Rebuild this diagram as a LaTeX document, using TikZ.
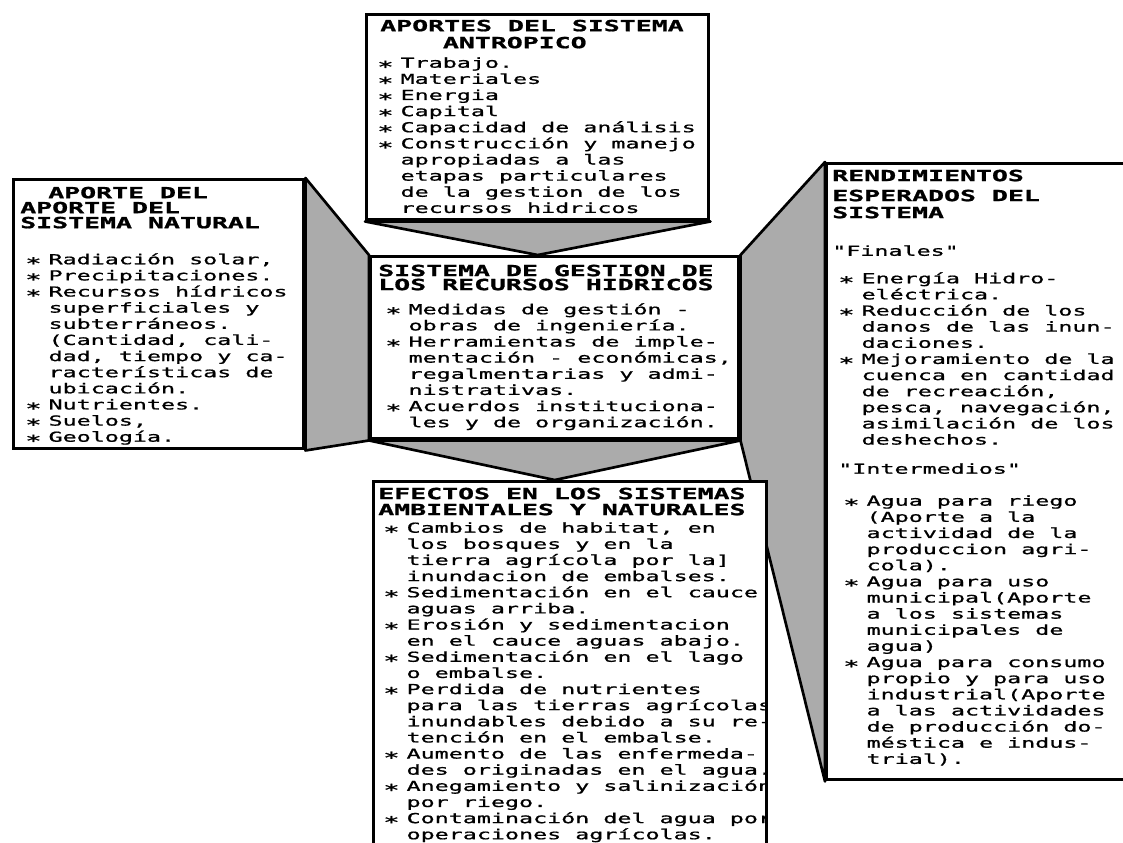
\documentclass[tikz,border=0pt]{standalone}
\usepackage{fontspec}
\newfontfamily\bodyfont{DejaVu Sans Mono}[FakeStretch=1.7, FakeBold=1]
\newfontfamily\headfont{DejaVu Sans Mono}[FakeStretch=1.73, FakeBold=1.2]
\usetikzlibrary{positioning, backgrounds}
\tikzset{
  panel/.style   ={draw, line width=2.6pt, fill=white, inner sep=0pt,
    anchor=north west},
  funnel/.style  ={draw, fill=gray!66, line width=2pt, line join=round},
  headtext/.style={font=\headfont\bfseries\fontsize{11.5pt}{11.25pt}\selectfont,
    align=left, inner sep=0pt, anchor=north west},
  bodytext/.style={font=\bodyfont\fontsize{10.3pt}{12.1pt}\selectfont,
    align=left, inner sep=0pt, anchor=north west},
}
\newcommand{\itm}{\makebox[17.5pt][l]{\smash{\raisebox{-3.6pt}{\fontsize{12pt}{12pt}\selectfont *}}}}
\newcommand{\cnt}{\hspace*{17.5pt}}

\begin{document}
\begin{tikzpicture}[x=0.75pt, y=-0.75pt]
  \useasboundingbox (0,0) rectangle (1123,842);

  % the five panels
  \node[panel, minimum width=256.5pt, minimum height=153.75pt] (antro) at (365,13)  {};
  \node[panel, minimum width=217.5pt, minimum height=201.75pt] (nat)   at (12,178)  {};
  \node[panel, minimum width=276pt,   minimum height=136.5pt]  (mid)   at (369,255) {};
  \node[panel, minimum width=232.5pt, minimum height=462pt]    (rend)  at (825,162) {};
  \node[panel, minimum width=294.75pt,minimum height=285pt]    (bot)   at (372,480) {};

  % antropico
  \node[headtext, below right=4.9pt and 11.25pt of antro.north west] (antroh)
    {APORTES DEL SISTEMA\\[1.5pt]\hspace*{47pt}ANTROPICO};
  \node[bodytext, below right=33pt and 9pt of antro.north west] (antrob)
    {\itm Trabajo.\\
     \itm Materiales\\
     \itm Energia\\
     \itm Capital\\
     \itm Capacidad de análisis\\
     \itm Construcción y manejo\\
     \cnt apropiadas a las\\
     \cnt etapas particulares\\
     \cnt de la gestion de los\\
     \cnt recursos hidricos};

  % natural
  \node[headtext, below right=6.4pt and 6pt of nat.north west] (nath)
    {\hspace*{21pt}APORTE DEL\\APORTE DEL\\SISTEMA NATURAL};
  \node[bodytext, below right=56.25pt and 9.75pt of nat.north west] (natb)
    {\itm Radiación solar,\\
     \itm Precipitaciones.\\
     \itm Recursos hídricos\\
     \cnt superficiales y\\
     \cnt subterráneos.\\
     \cnt (Cantidad, cali-\\
     \cnt dad, tiempo y ca-\\
     \cnt racterísticas de\\
     \cnt ubicación.\\
     \itm Nutrientes.\\
     \itm Suelos,\\
     \itm Geología.};

  % gestion
  \node[headtext, below right=7.1pt and 6.75pt of mid.north west] (midh)
    {SISTEMA DE GESTION DE\\[-0.75pt]LOS RECURSOS HIDRICOS};
  \node[bodytext, below right=36pt and 12pt of mid.north west] (midb)
    {\itm Medidas de gestión -\\
     \cnt obras de ingeniería.\\
     \itm Herramientas de imple-\\
     \cnt mentación - económicas,\\
     \cnt regalmentarias y admi-\\
     \cnt nistrativas.\\
     \itm Acuerdos instituciona-\\
     \cnt les y de organización.};

  % rendimientos
  \node[headtext, below right=5.6pt and 5.25pt of rend.north west] (rendh)
    {RENDIMIENTOS\\[3.75pt]ESPERADOS DEL\\[1.5pt]SISTEMA};
  \node[bodytext, below right=62.25pt and 5.25pt of rend.north west] (fin)
    {"Finales"};
  \node[bodytext, below right=82.5pt and 9.75pt of rend.north west] (finb)
    {\itm Energía Hidro-\\
     \cnt eléctrica.\\
     \itm Reducción de los\\
     \cnt danos de las inun-\\
     \cnt daciones.\\
     \itm Mejoramiento de la\\
     \cnt cuenca en cantidad\\
     \cnt de recreación,\\
     \cnt pesca, navegación,\\
     \cnt asimilación de los\\
     \cnt deshechos.};
  \node[bodytext, below right=225.75pt and 9.75pt of rend.north west] (inter)
    {"Intermedios"};
  \node[bodytext, below right=249.75pt and 13.5pt of rend.north west] (interb)
    {\itm Agua para riego\\
     \cnt (Aporte a la\\
     \cnt actividad de la\\
     \cnt produccion agri-\\
     \cnt cola).\\
     \itm Agua para uso\\
     \cnt municipal(Aporte\\
     \cnt a los sistemas\\
     \cnt municipales de\\
     \cnt agua)\\
     \itm Agua para consumo\\
     \cnt propio y para uso\\
     \cnt industrial(Aporte\\
     \cnt a las actividades\\
     \cnt de producción do-\\
     \cnt méstica e indus-\\
     \cnt trial).};

  % efectos (long lines run under the right border)
  \node[headtext, below right=5.6pt and 4.5pt of bot.north west] (both)
    {EFECTOS EN LOS SISTEMAS\\[0.75pt]AMBIENTALES Y NATURALES};
  \begin{scope}
    \clip (bot.north west) rectangle ([xshift=-1.3pt]bot.south east);
    \node[bodytext, below right=31.5pt and 8.25pt of bot.north west] (botb)
      {\itm Cambios de habitat, en\\
       \cnt los bosques y en la\\
       \cnt tierra agrícola por la]\\
       \cnt inundacion de embalses.\\
       \itm Sedimentación en el cauce\\
       \cnt aguas arriba.\\
       \itm Erosión y sedimentacion\\
       \cnt en el cauce aguas abajo.\\
       \itm Sedimentación en el lago\\
       \cnt o embalse.\\
       \itm Perdida de nutrientes\\
       \cnt para las tierras agrícolas\\
       \cnt inundables debido a su re-\\
       \cnt tención en el embalse.\\
       \itm Aumento de las enfermeda-\\
       \cnt des originadas en el agua.\\
       \itm Anegamiento y salinización\\
       \cnt por riego.\\
       \itm Contaminación del agua por\\
       \cnt operaciones agrícolas.};
  \end{scope}

  % gray links between the panels
  \begin{scope}[on background layer]
    \draw[funnel] (antro.south west) -- (antro.south east)
      -- (antro.south |- mid.north) -- cycle;
    \draw[funnel] (mid.south west) -- (mid.south east)
      -- (mid.south |- bot.north) -- cycle;
    \draw[funnel] (nat.north east) -- (mid.north west)
      -- (mid.south west) -- (nat.south east) -- cycle;
    \draw[funnel] (mid.north east) -- (rend.north west)
      -- (rend.south west) -- (mid.south east) -- cycle;
  \end{scope}

\end{tikzpicture}
\end{document}
